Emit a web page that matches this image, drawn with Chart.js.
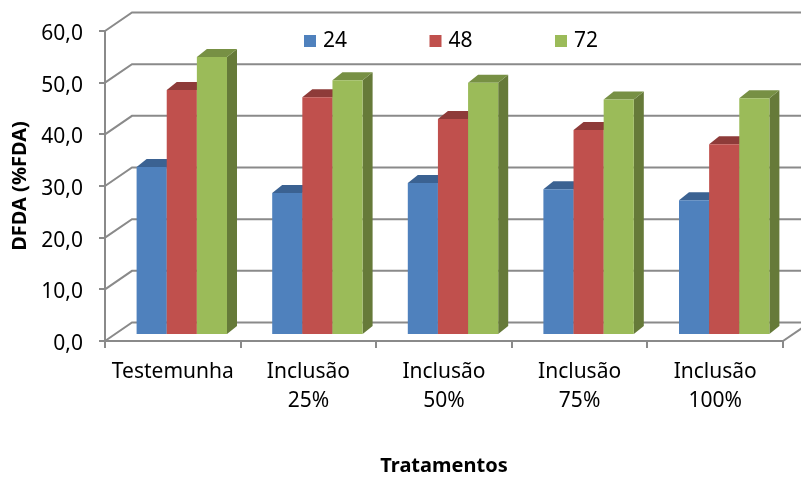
<!DOCTYPE html>
<html>
<head>
<meta charset="utf-8">
<title>DFDA</title>
<script src="https://cdn.jsdelivr.net/npm/chart.js@4"></script>
<style>
  html, body { margin: 0; padding: 0; background: #fff; }
  canvas { display: block; }
</style>
</head>
<body>
<canvas id="grafico" width="801" height="477"></canvas>
<script>
const categorias = ['Testemunha', ['Inclusão', '25%'], ['Inclusão', '50%'], ['Inclusão', '75%'], ['Inclusão', '100%']];
const series = ['24', '48', '72'];
const valores24 = [32.5, 27.5, 29.4, 28.2, 26.1];
const valores48 = [47.4, 46.0, 41.8, 39.7, 36.9];
const valores72 = [53.8, 49.3, 48.8, 45.6, 45.8];

const corFrente = ['#4f81bd', '#c0504d', '#9bbb59'];
const corTopo = ['#3b6292', '#8e3b39', '#779044'];
const corLado = ['#35577f', '#7e3331', '#667a39'];

const corEixo = '#8a8a8a';
const fonte = "'Noto Sans', sans-serif";

// deslocamentos da perspectiva: parede do fundo, face da barra e profundidade da barra
const parede = { x: 27, y: -18.5 };
const faceBarra = { x: 9, y: -6 };
const fundoBarra = { x: 10, y: -8 };

function poligono(ctx, cor, pontos) {
    ctx.fillStyle = cor;
    ctx.beginPath();
    pontos.forEach(([x, y], i) => i ? ctx.lineTo(x, y) : ctx.moveTo(x, y));
    ctx.closePath();
    ctx.fill();
}

// paredes do fundo, chão e diagonais ligando o eixo à parede
const paredes = {
    id: 'paredes',
    beforeDatasetsDraw(chart) {
        const { ctx, scales: { y }, chartArea, width } = chart;
        ctx.save();
        ctx.strokeStyle = corEixo;
        ctx.lineWidth = 2;
        y.ticks.forEach(t => {
            const py = y.getPixelForValue(t.value);
            ctx.beginPath();
            ctx.moveTo(chartArea.left, py);
            ctx.lineTo(chartArea.left + parede.x, py + parede.y);
            ctx.lineTo(width, py + parede.y);
            ctx.stroke();
        });
        const chao = y.getPixelForValue(0);
        ctx.beginPath();
        ctx.moveTo(chartArea.right, chao);
        ctx.lineTo(chartArea.right + parede.x, chao + parede.y);
        ctx.stroke();
        ctx.restore();
    }
};

// desenha as barras da esquerda para a direita, com topo e lateral atrás da face frontal;
// devolve false para o Chart.js não repetir o desenho na ordem inversa
const barras3d = {
    id: 'barras3d',
    beforeDatasetsDraw(chart) {
        const { ctx } = chart;
        ctx.save();
        ctx.translate(faceBarra.x, faceBarra.y);
        chart.getSortedVisibleDatasetMetas().forEach(meta => {
            const i = meta.index;
            meta.data.forEach(b => {
                const esq = b.x - b.width / 2;
                const dir = b.x + b.width / 2;
                const dx = fundoBarra.x;
                const dy = fundoBarra.y;
                poligono(ctx, corLado[i], [[dir, b.y], [dir + dx, b.y + dy], [dir + dx, b.base + dy], [dir, b.base]]);
                poligono(ctx, corTopo[i], [[esq, b.y], [esq + dx, b.y + dy], [dir + dx, b.y + dy], [dir, b.y]]);
            });
            meta.controller.draw();
        });
        ctx.restore();
        return false;
    }
};

// legenda dentro da área do gráfico, com itens bem espaçados
const legendaInterna = {
    id: 'legendaInterna',
    afterDraw(chart) {
        const { ctx } = chart;
        ctx.save();
        ctx.font = '21px ' + fonte;
        ctx.textBaseline = 'middle';
        series.forEach((nome, i) => {
            const x = 304 + i * 125.5;
            ctx.fillStyle = corFrente[i];
            ctx.fillRect(x, 35, 12, 12);
            ctx.fillStyle = '#000';
            ctx.fillText(nome, x + 19, 41);
        });
        ctx.restore();
    }
};

new Chart(document.getElementById('grafico'), {
    type: 'bar',
    data: {
        labels: categorias,
        datasets: [
            { label: series[0], data: valores24, backgroundColor: corFrente[0] },
            { label: series[1], data: valores48, backgroundColor: corFrente[1] },
            { label: series[2], data: valores72, backgroundColor: corFrente[2] }
        ]
    },
    plugins: [paredes, barras3d, legendaInterna],
    options: {
        responsive: false,
        animation: false,
        layout: { padding: { top: 31, right: 18, left: 0, bottom: 0 } },
        datasets: { bar: { barPercentage: 1, categoryPercentage: 2 / 3 } },
        plugins: { legend: { display: false }, tooltip: { enabled: false } },
        scales: {
            x: {
                afterFit(escala) { escala.height = 136; },
                border: { color: corEixo, width: 2 },
                grid: { drawOnChartArea: false, color: corEixo, lineWidth: 2, tickLength: 7 },
                ticks: { color: '#000', font: { family: fonte, size: 21, lineHeight: 1.38 }, padding: 10, maxRotation: 0, minRotation: 0 },
                title: { display: true, text: 'Tratamentos', color: '#000', font: { family: fonte, size: 20, weight: 'bold' }, padding: { top: 0, bottom: -1 } }
            },
            y: {
                afterFit(escala) { escala.width = 105; },
                min: 0,
                max: 60,
                border: { color: corEixo, width: 2 },
                grid: { drawOnChartArea: false, color: corEixo, lineWidth: 2, tickLength: 6 },
                ticks: {
                    stepSize: 10,
                    color: '#000',
                    padding: 16,
                    labelOffset: 3,
                    font: { family: fonte, size: 21 },
                    callback: v => v.toFixed(1).replace('.', ',')
                },
                title: { display: true, text: 'DFDA (%FDA)', color: '#000', font: { family: fonte, size: 20, weight: 'bold' }, padding: { top: 8, bottom: 0 } }
            }
        }
    }
});
</script>
</body>
</html>
